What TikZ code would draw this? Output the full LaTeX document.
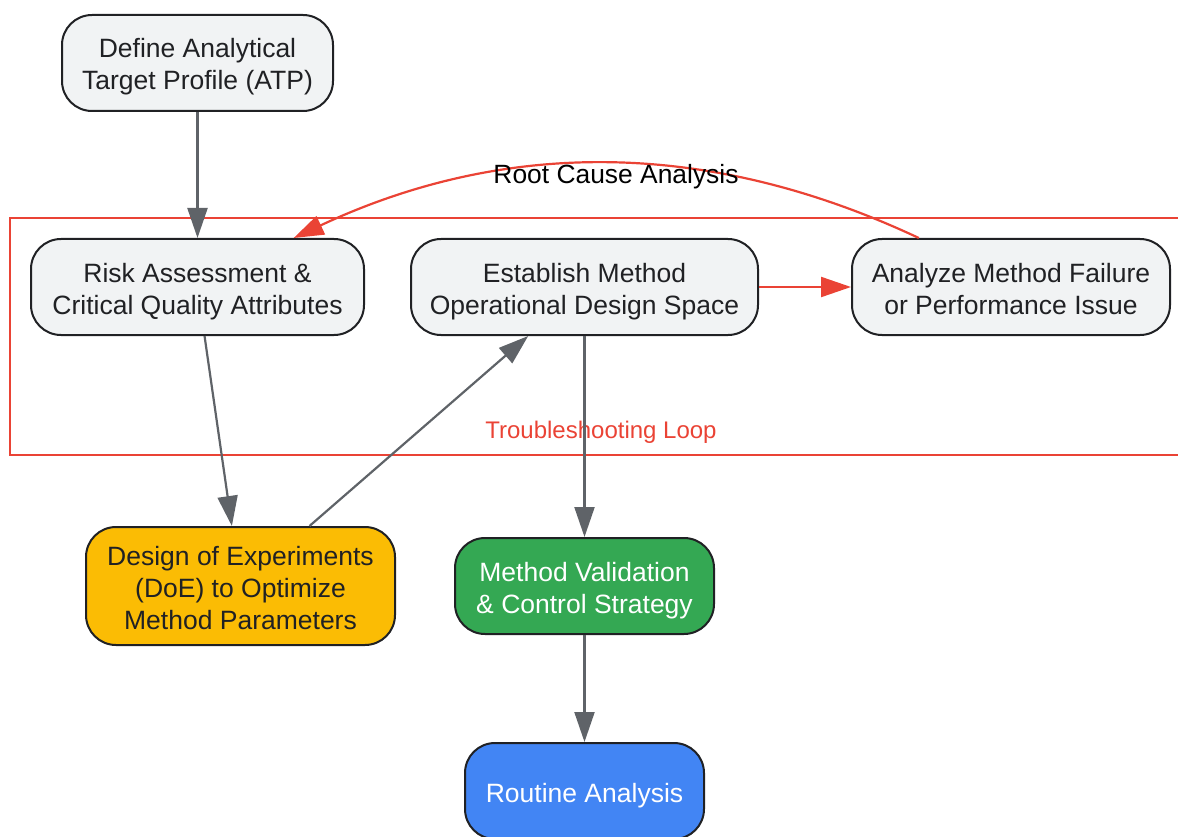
\documentclass[tikz,border=0pt]{standalone}
\usepackage{fontspec}
\setmainfont{Liberation Sans}
\usetikzlibrary{arrows.meta}
\definecolor{boxgrey}{HTML}{F1F3F4}
\definecolor{boxline}{HTML}{202124}
\definecolor{linkgrey}{HTML}{5F6368}
\definecolor{loopred}{HTML}{EA4335}
\definecolor{doeyellow}{HTML}{FBBC04}
\definecolor{valgreen}{HTML}{34A853}
\definecolor{runblue}{HTML}{4285F4}
\newcommand{\tallstrut}{\rule{0pt}{28pt}}

\begin{document}
\begin{tikzpicture}[x=1pt, y=-1pt,
  box/.style={draw=boxline, line width=2pt, rounded corners=30pt, fill=boxgrey,
    text=boxtext, align=center, inner sep=0pt, minimum height=96pt,
    font=\fontsize{26.5}{32}\selectfont,
    execute at end node={\rule[-6pt]{0pt}{0pt}}},
  link/.style={draw=linkgrey, line width=2.2pt, -{Triangle[length=30pt,width=20pt]}},
  redlink/.style={draw=loopred, line width=2.2pt, -{Triangle[length=30pt,width=20pt]}}]
\colorlet{boxtext}{boxline}
\useasboundingbox (0,0) rectangle (1178,837);

% troubleshooting loop frame
\draw[loopred, line width=2.2pt] (10,218) rectangle (1200,455);
\node[text=loopred, font=\fontsize{24}{28}\selectfont] (looplabel) at (601,432) {Troubleshooting Loop};

\node[box, minimum width=271pt] (atp) at (197.5,63) {\tallstrut Define Analytical\\Target Profile (ATP)};
\node[box, minimum width=333pt] (risk) at (197.5,287) {\tallstrut Risk Assessment \&\\Critical Quality Attributes};
\node[box, minimum width=347pt] (space) at (584.5,287) {\tallstrut Establish Method\\Operational Design Space};
\node[box, minimum width=318pt] (failure) at (1011,287) {\tallstrut Analyze Method Failure\\or Performance Issue};
\node[box, minimum width=309pt, minimum height=118pt, fill=doeyellow] (doe) at (240.5,586)
  {\tallstrut Design of Experiments\\(DoE) to Optimize\\Method Parameters};
\node[box, minimum width=259pt, fill=valgreen, text=white] (valid) at (584.5,586)
  {\tallstrut Method Validation\\\& Control Strategy};
\node[box, minimum width=239pt, fill=runblue, text=white] (routine) at (584.5,791) {\tallstrut Routine Analysis};

\draw[link] (atp) -- (risk);
\draw[link] (risk) -- (doe);
\draw[link] (doe) -- (space);
\draw[link] (space) -- (valid);
\draw[link] (valid) -- (routine);
\draw[redlink] (space) -- (failure);
\draw[redlink] (failure.152) .. controls (708,139) and (505,139) .. (risk.27);
\node[font=\fontsize{26.4}{32}\selectfont] (rootcause) at (616,177) {Root Cause Analysis};
\end{tikzpicture}
\end{document}
